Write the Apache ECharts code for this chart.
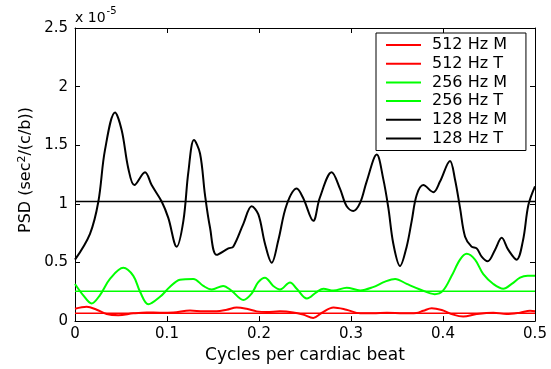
<!DOCTYPE html>
<html>
<head>
<meta charset="utf-8">
<script src="https://cdn.jsdelivr.net/npm/echarts@6/dist/echarts.min.js"></script>
<style>
  html, body { margin: 0; padding: 0; background: #fff; }
  #chart { width: 551px; height: 369px; }
</style>
</head>
<body>
<div id="chart"></div>
<script>
// PSD values, in units of 1e-5 sec^2/(c/b)
const red512M = [
  [0, 0.105], [0.0127, 0.122], [0.0236, 0.097], [0.0344, 0.06], [0.047, 0.05],
  [0.0634, 0.066], [0.078, 0.074], [0.0924, 0.072], [0.1068, 0.074], [0.125, 0.091],
  [0.1395, 0.083], [0.154, 0.083], [0.165, 0.097], [0.1757, 0.116], [0.1866, 0.105],
  [0.1975, 0.083], [0.2083, 0.077], [0.2228, 0.083], [0.2373, 0.074], [0.248, 0.055],
  [0.259, 0.027], [0.268, 0.069], [0.281, 0.116], [0.295, 0.097], [0.31, 0.066],
  [0.324, 0.066], [0.339, 0.072], [0.357, 0.066], [0.371, 0.069], [0.3786, 0.088],
  [0.3877, 0.11], [0.3986, 0.094], [0.4112, 0.055], [0.422, 0.039], [0.4366, 0.06],
  [0.4547, 0.072], [0.469, 0.06], [0.4837, 0.072], [0.4946, 0.088], [0.5, 0.085]
];
const red512T = [[0, 0.066], [0.5, 0.066]];

const green256M = [
  [0, 0.317], [0.009, 0.22], [0.018, 0.15], [0.027, 0.22], [0.038, 0.36],
  [0.0525, 0.455], [0.0634, 0.386], [0.0707, 0.25], [0.0797, 0.143], [0.0924, 0.207],
  [0.103, 0.29], [0.114, 0.353], [0.1286, 0.36], [0.1395, 0.3], [0.1486, 0.27],
  [0.161, 0.3], [0.17, 0.26], [0.183, 0.18], [0.192, 0.235], [0.199, 0.33],
  [0.2065, 0.37], [0.2155, 0.3], [0.2228, 0.27], [0.2337, 0.33], [0.241, 0.276],
  [0.252, 0.193], [0.2627, 0.248], [0.27, 0.276], [0.281, 0.26], [0.2953, 0.285],
  [0.31, 0.262], [0.324, 0.29], [0.337, 0.337], [0.348, 0.36], [0.3605, 0.317],
  [0.375, 0.27], [0.391, 0.23], [0.4, 0.26], [0.4094, 0.386], [0.4185, 0.524],
  [0.4257, 0.574], [0.4348, 0.524], [0.4438, 0.4], [0.4547, 0.317], [0.4655, 0.276],
  [0.4747, 0.317], [0.4837, 0.37], [0.492, 0.386], [0.5, 0.386]
];
const green256T = [[0, 0.254], [0.5, 0.254]];

const black128M = [
  [0, 0.524], [0.0163, 0.745], [0.0254, 1.02], [0.0326, 1.46], [0.0435, 1.78],
  [0.0507, 1.63], [0.058, 1.3], [0.0645, 1.16], [0.0761, 1.27], [0.0833, 1.16],
  [0.0942, 1.02], [0.1014, 0.88], [0.1105, 0.635], [0.1178, 0.855], [0.1232, 1.27],
  [0.1293, 1.545], [0.1359, 1.43], [0.1413, 1.076], [0.1467, 0.8], [0.154, 0.565],
  [0.1667, 0.62], [0.172, 0.635], [0.183, 0.83], [0.192, 0.98], [0.1993, 0.91],
  [0.2065, 0.66], [0.2138, 0.497], [0.221, 0.69], [0.23, 0.99], [0.241, 1.13],
  [0.248, 1.05], [0.259, 0.855], [0.266, 1.05], [0.279, 1.27], [0.288, 1.13],
  [0.2953, 0.98], [0.3025, 0.94], [0.31, 1.01], [0.317, 1.19], [0.328, 1.42],
  [0.335, 1.215], [0.3406, 0.966], [0.346, 0.66], [0.3533, 0.47], [0.3605, 0.635],
  [0.366, 0.855], [0.3714, 1.076], [0.3786, 1.16], [0.3895, 1.1], [0.3967, 1.19],
  [0.4076, 1.366], [0.413, 1.21], [0.4185, 0.966], [0.424, 0.72], [0.431, 0.635],
  [0.4366, 0.62], [0.442, 0.55], [0.4485, 0.51], [0.4565, 0.607], [0.4638, 0.71],
  [0.471, 0.607], [0.48, 0.524], [0.487, 0.69], [0.4928, 0.99], [0.5, 1.15]
];
const black128T = [[0, 1.02], [0.5, 1.02]];

const seriesNames = ['512 Hz M', '512 Hz T', '256 Hz M', '256 Hz T', '128 Hz M', '128 Hz T'];
const seriesData = [red512M, red512T, green256M, green256T, black128M, black128T];
const seriesColors = ['#ff0000', '#ff0000', '#00ff00', '#00ff00', '#000000', '#000000'];

const font = 'DejaVu Sans';

const chart = echarts.init(document.getElementById('chart'), null, { renderer: 'canvas' });

const axisCommon = {
  axisLine: { onZero: false, lineStyle: { color: '#000', width: 1 } },
  axisTick: { inside: true, length: 5, lineStyle: { color: '#000' } },
  splitLine: { show: false },
};

const option = {
  animation: false,
  backgroundColor: '#fff',
  grid: { left: 75, right: 16, top: 28, bottom: 39 },
  graphic: [
    {
      type: 'text',
      left: 75,
      top: 6,
      style: {
        text: '{a|x 10}{b|-5}',
        rich: {
          a: { fontSize: 14, fontFamily: font, fill: '#000', padding: [8, 0, 0, 0] },
          b: { fontSize: 10, fontFamily: font, fill: '#000', padding: [0, 0, 6, 1] },
        },
      },
    },
    {
      // y axis title, placed like the original (a bit above the plot centre)
      type: 'text',
      x: 26,
      y: 170,
      rotation: Math.PI / 2,
      style: {
        text: '{n|PSD (sec}{s|2}{n|/(c/b))}',
        align: 'center',
        verticalAlign: 'middle',
        rich: {
          n: { fontSize: 16, fontFamily: font, fill: '#000' },
          s: { fontSize: 11, fontFamily: font, fill: '#000', padding: [0, 0, 8, 0] },
        },
      },
    },
  ],
  legend: {
    orient: 'vertical',
    left: 376,
    top: 33,
    data: seriesNames,
    icon: 'rect',
    backgroundColor: '#fff',
    borderColor: '#000',
    borderWidth: 1,
    padding: [4, 19, 4, 10],
    itemWidth: 35,
    itemHeight: 2,
    itemGap: 2.7,
    textStyle: { fontSize: 16, fontFamily: font, color: '#000', lineHeight: 14, padding: [0, 0, 0, 6] },
  },
  xAxis: [
    {
      ...axisCommon,
      type: 'value',
      min: 0,
      max: 0.5,
      interval: 0.1,
      position: 'bottom',
      name: 'Cycles per cardiac beat',
      nameLocation: 'middle',
      nameGap: 23,
      nameTextStyle: { fontSize: 17, fontFamily: font, color: '#000' },
      axisLabel: {
        color: '#000', fontSize: 15, fontFamily: font, margin: 6,
        formatter: (v) => String(+v.toFixed(2)),
      },
    },
    {
      ...axisCommon,
      type: 'value',
      min: 0,
      max: 0.5,
      interval: 0.1,
      position: 'top',
      axisLabel: { show: false },
    },
  ],
  yAxis: [
    {
      ...axisCommon,
      type: 'value',
      min: 0,
      max: 2.5,
      interval: 0.5,
      position: 'left',
      axisLabel: { color: '#000', fontSize: 15, fontFamily: font, margin: 7 },
    },
    {
      ...axisCommon,
      type: 'value',
      min: 0,
      max: 2.5,
      interval: 0.5,
      position: 'right',
      axisLabel: { show: false },
    },
  ],
  series: seriesNames.map((name, i) => ({
    name,
    type: 'line',
    data: seriesData[i],
    xAxisIndex: 0,
    yAxisIndex: 0,
    symbol: 'none',
    smooth: seriesData[i].length > 2 ? 0.35 : false,
    color: seriesColors[i],
    lineStyle: { color: seriesColors[i], width: seriesData[i].length > 2 ? 2 : 1.5 },
    z: 2,
  })),
};

chart.setOption(option);
</script>
</body>
</html>
